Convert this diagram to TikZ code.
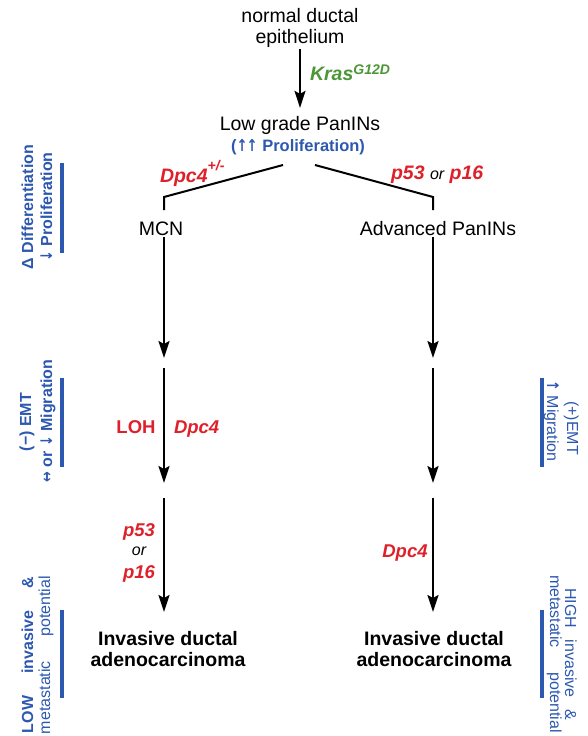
\documentclass[tikz,border=0pt]{standalone}
\usepackage{fontspec}
\setmainfont{Liberation Sans}
\newfontfamily\arrowfont{DejaVu Sans}
\newcommand{\ar}[1]{{\arrowfont\bfseries\scalebox{0.8}[1]{#1}}}
\usetikzlibrary{arrows.meta}
\definecolor{dblue}{RGB}{45,88,175}
\definecolor{dred}{RGB}{222,32,42}
\definecolor{dgreen}{RGB}{76,150,56}
\begin{document}
\begin{tikzpicture}[x=1pt,y=-1pt,
  every node/.style={inner sep=0pt, outer sep=0pt},
  txt/.style={font=\fontsize{19.5}{22}\selectfont, anchor=base},
  res/.style={font=\fontsize{19.5}{22}\selectfont\bfseries, anchor=base},
  genebig/.style={font=\fontsize{19.5}{22}\selectfont\bfseries\itshape, text=dred, anchor=base west},
  gene/.style={font=\fontsize{18.5}{21}\selectfont\bfseries\itshape, text=dred, anchor=base},
  conj/.style={font=\fontsize{16}{18}\selectfont\itshape, text=black, anchor=base},
  prolif/.style={font=\fontsize{16.5}{18}\selectfont\bfseries, text=dblue, anchor=base},
  sidel/.style={font=\fontsize{16}{18}\selectfont\bfseries, text=dblue, rotate=90, anchor=base},
  sidelr/.style={font=\fontsize{16}{18}\selectfont, text=dblue, rotate=90, anchor=base},
  sider/.style={font=\fontsize{16}{18}\selectfont, text=dblue, rotate=-90, anchor=base},
  arr/.style={line width=2pt, -{Stealth[length=17pt,width=11pt,inset=3pt]}},
  seg/.style={line width=2pt},
  bar/.style={line width=4pt, draw=dblue},
]
\useasboundingbox (0,0) rectangle (587,736);

% main text nodes
\node[txt] (normal) at (300,22) {normal ductal};
\node[txt] (epi) at (300,43) {epithelium};
\node[txt] (low) at (300,130) {Low grade PanINs};
\node[prolif] (prol) at (298,151) {(\ar{↑}\hspace{-1pt}\ar{↑} Proliferation)};
\node[txt] (mcn) at (161,235) {MCN};
\node[txt] (adv) at (438,235) {Advanced PanINs};
\node[res] (invL1) at (168,645) {Invasive ductal};
\node[res] (invL2) at (168,666) {adenocarcinoma};
\node[res] (invR1) at (434,645) {Invasive ductal};
\node[res] (invR2) at (434,666) {adenocarcinoma};

% gene labels
\node[font=\fontsize{19.5}{22}\selectfont\bfseries\itshape, text=dgreen, anchor=base west] (kras) at (310,80) {Kras\raisebox{6pt}{\fontsize{14}{14}\selectfont G12D}};
\node[genebig] (dpcA) at (160,182) {Dpc4\raisebox{12pt}{\fontsize{14}{14}\selectfont +/-}};
\node[genebig] (p53a) at (391,179) {p53 {\normalfont\fontsize{16}{16}\itshape\selectfont\color{black}or} p16};
\node[gene, font=\fontsize{18.5}{21}\selectfont\bfseries] (loh) at (136,433) {LOH};
\node[gene, anchor=base west] (dpcB) at (174,433) {Dpc4};
\node[gene] (p53b) at (139,536) {p53};
\node[conj] (orb) at (139,555) {or};
\node[gene] (p16b) at (139,578) {p16};
\node[gene] (dpcC) at (405,557) {Dpc4};

% connectors
\draw[arr, shorten <=2pt, shorten >=8pt] (epi.south) -- (low.north);
\coordinate (bL) at (283,165);
\coordinate (cL) at (164,197);
\coordinate (dL) at (164,210);
\coordinate (bR) at (315,165);
\coordinate (cR) at (433,197);
\coordinate (dR) at (433,210);
\draw[seg] (bL) -- (cL) -- (dL);
\draw[seg] (bR) -- (cR) -- (dR);

\coordinate (L1) at (164,237);
\coordinate (L2) at (164,358);
\coordinate (L3) at (164,368);
\coordinate (L4) at (164,483);
\coordinate (L5) at (164,498);
\coordinate (L6) at (164,612);
\coordinate (R1) at (433,237);
\coordinate (R2) at (433,358);
\coordinate (R3) at (433,368);
\coordinate (R4) at (433,483);
\coordinate (R5) at (433,498);
\coordinate (R6) at (433,612);
\draw[arr] (L1) -- (L2);
\draw[arr] (L3) -- (L4);
\draw[arr] (L5) -- (L6);
\draw[arr] (R1) -- (R2);
\draw[arr] (R3) -- (R4);
\draw[arr] (R5) -- (R6);

% side bars
\coordinate (b1t) at (62,163); \coordinate (b1b) at (62,253);
\coordinate (b2t) at (62,378); \coordinate (b2b) at (62,467);
\coordinate (b3t) at (62,610); \coordinate (b3b) at (62,698);
\coordinate (b4t) at (542,378); \coordinate (b4b) at (542,467);
\coordinate (b5t) at (542,610); \coordinate (b5b) at (542,698);
\draw[bar] (b1t) -- (b1b);
\draw[bar] (b2t) -- (b2b);
\draw[bar] (b3t) -- (b3b);
\draw[bar] (b4t) -- (b4b);
\draw[bar] (b5t) -- (b5b);

% side labels
\node[sidel] (s1a) at (33,207) {Δ Differentiation};
\node[sidel] (s1b) at (52,207) {\ar{↓} Proliferation};
\node[sidel] (s2a) at (31,422) {(−) EMT};
\node[sidel] (s2b) at (52,421) {\ar{↔} or \ar{↓} Migration};
\node[sidel] (s3a) at (33,655) {\makebox[156pt]{LOW\hfill invasive\hfill\&}};
\node[sidelr] (s3b) at (50,655) {\makebox[158pt]{metastatic\hfill potential}};
\node[sider] (r1a) at (567,428) {(+)EMT};
\node[sider] (r1b) at (547,421) {\ar{↑} Migration};
\node[sider] (r2a) at (565,654) {\makebox[132pt]{HIGH\hfill invasive\hfill\&}};
\node[sider] (r2b) at (550,654) {\makebox[158pt]{metastatic\hfill potential}};
\end{tikzpicture}
\end{document}
